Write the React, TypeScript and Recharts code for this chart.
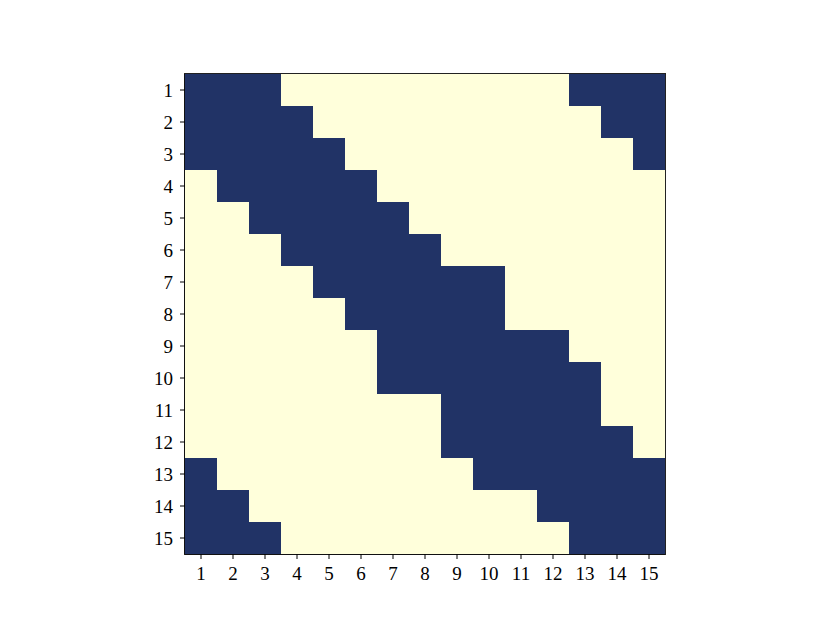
import { ReferenceArea, Scatter, ScatterChart, XAxis, YAxis } from "recharts";

// 15x15 matrix, one array per row (1 = dark, 0 = light)
const row1 = [1, 1, 1, 0, 0, 0, 0, 0, 0, 0, 0, 0, 1, 1, 1];
const row2 = [1, 1, 1, 1, 0, 0, 0, 0, 0, 0, 0, 0, 0, 1, 1];
const row3 = [1, 1, 1, 1, 1, 0, 0, 0, 0, 0, 0, 0, 0, 0, 1];
const row4 = [0, 1, 1, 1, 1, 1, 0, 0, 0, 0, 0, 0, 0, 0, 0];
const row5 = [0, 0, 1, 1, 1, 1, 1, 0, 0, 0, 0, 0, 0, 0, 0];
const row6 = [0, 0, 0, 1, 1, 1, 1, 1, 0, 0, 0, 0, 0, 0, 0];
const row7 = [0, 0, 0, 0, 1, 1, 1, 1, 1, 1, 0, 0, 0, 0, 0];
const row8 = [0, 0, 0, 0, 0, 1, 1, 1, 1, 1, 0, 0, 0, 0, 0];
const row9 = [0, 0, 0, 0, 0, 0, 1, 1, 1, 1, 1, 1, 0, 0, 0];
const row10 = [0, 0, 0, 0, 0, 0, 1, 1, 1, 1, 1, 1, 1, 0, 0];
const row11 = [0, 0, 0, 0, 0, 0, 0, 0, 1, 1, 1, 1, 1, 0, 0];
const row12 = [0, 0, 0, 0, 0, 0, 0, 0, 1, 1, 1, 1, 1, 1, 0];
const row13 = [1, 0, 0, 0, 0, 0, 0, 0, 0, 1, 1, 1, 1, 1, 1];
const row14 = [1, 1, 0, 0, 0, 0, 0, 0, 0, 0, 0, 1, 1, 1, 1];
const row15 = [1, 1, 1, 0, 0, 0, 0, 0, 0, 0, 0, 0, 1, 1, 1];

const rows = [row1, row2, row3, row4, row5, row6, row7, row8, row9, row10, row11, row12, row13, row14, row15];
const ticks = [1, 2, 3, 4, 5, 6, 7, 8, 9, 10, 11, 12, 13, 14, 15];

const cells = rows.flatMap((r, i) => r.map((v, j) => ({ x: j + 1, y: i + 1, v })));

const DARK = "#213366";
const LIGHT = "#ffffdb";
const PLOT = 480;
const CELL = PLOT / ticks.length;
const font = { fontFamily: "'Liberation Serif', serif", fontSize: 19, fill: "#000" };

function CellShape(props: any) {
  const { cx, cy, payload } = props;
  return (
    <rect
      x={cx - CELL / 2}
      y={cy - CELL / 2}
      width={CELL}
      height={CELL}
      fill={payload.v ? DARK : LIGHT}
      shapeRendering="crispEdges"
    />
  );
}

export default function App() {
  return (
    <div style={{ position: "absolute", left: 0, top: 0, background: "#fff" }}>
      <ScatterChart width={830} height={623} margin={{ top: 74, right: 165, bottom: 39, left: 145 }}>
        <XAxis
          type="number"
          dataKey="x"
          domain={[0.5, 15.5]}
          ticks={ticks}
          interval={0}
          height={30}
          stroke="#000"
          tickSize={5}
          tickMargin={8}
          tick={font}
        />
        <YAxis
          type="number"
          dataKey="y"
          domain={[0.5, 15.5]}
          reversed
          ticks={ticks}
          interval={0}
          width={40}
          stroke="#000"
          tickSize={5}
          tickMargin={7}
          tick={font}
        />
        <Scatter data={cells} shape={<CellShape />} isAnimationActive={false} />
        <ReferenceArea
          x1={0.5}
          x2={15.5}
          y1={0.5}
          y2={15.5}
          fill="none"
          stroke="#222"
          strokeOpacity={1}
          strokeWidth={2}
          ifOverflow="visible"
        />
      </ScatterChart>
    </div>
  );
}
